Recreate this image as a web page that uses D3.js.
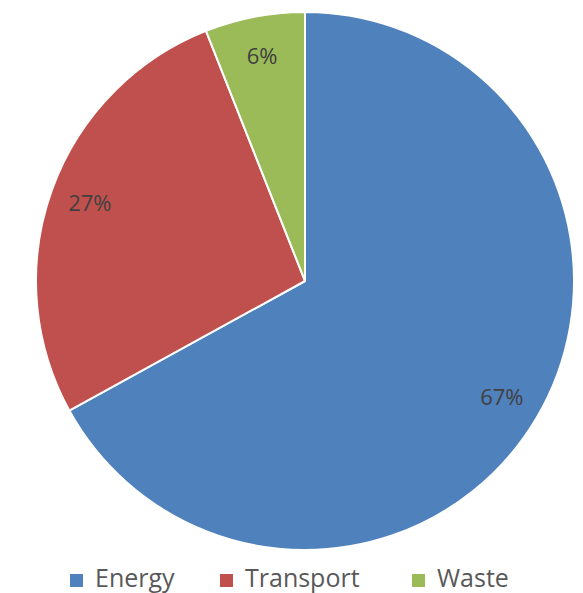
<!DOCTYPE html>
<html>
<head>
<meta charset="utf-8">
<script src="https://cdn.jsdelivr.net/npm/d3@7"></script>
<style>
  html, body { margin: 0; padding: 0; background: #fff; }
  svg { display: block; }
</style>
</head>
<body>
<svg id="chart" width="583" height="593"></svg>
<script>
// sources of emissions, share in percent
const categories = ["Energy", "Transport", "Waste"];
const shares = [67, 27, 6];
const colors = ["#4F81BD", "#C0504D", "#9BBB59"];

const width = 583, height = 593;
const cx = 305, cy = 281, radius = 269;

const svg = d3.select("#chart");

const data = categories.map((c, i) => ({ name: c, value: shares[i], color: colors[i] }));

const pie = d3.pie()
  .value(d => d.value)
  .sort(null);

const arc = d3.arc()
  .innerRadius(0)
  .outerRadius(radius);

// labels sit near the outer edge, like Excel does
const labelArc = d3.arc()
  .innerRadius(radius * 0.85)
  .outerRadius(radius * 0.85);

const g = svg.append("g")
  .attr("transform", `translate(${cx},${cy})`);

const arcs = pie(data);

g.selectAll("path")
  .data(arcs)
  .join("path")
    .attr("d", arc)
    .attr("fill", d => d.data.color)
    .attr("stroke", "#fff")
    .attr("stroke-width", 2)
    .attr("stroke-linejoin", "round");

g.selectAll("text.label")
  .data(arcs)
  .join("text")
    .classed("label", true)
    .attr("transform", d => `translate(${labelArc.centroid(d)})`)
    .attr("text-anchor", "middle")
    .attr("dy", "0.35em")
    .attr("font-family", "'Open Sans', sans-serif")
    .attr("font-size", 22)
    .attr("fill", "#404040")
    .text(d => d.data.value + "%");

// legend along the bottom
const legendX = [70, 220, 412];
const legend = svg.append("g")
  .attr("transform", "translate(0,574)");

const item = legend.selectAll("g")
  .data(data)
  .join("g")
    .attr("transform", (d, i) => `translate(${legendX[i]},0)`);

item.append("rect")
  .attr("width", 13)
  .attr("height", 13)
  .attr("fill", d => d.color);

item.append("text")
  .attr("x", 25)
  .attr("y", 13)
  .attr("font-family", "'Open Sans', sans-serif")
  .attr("font-size", 25)
  .attr("fill", "#595959")
  .text(d => d.name);
</script>
</body>
</html>
